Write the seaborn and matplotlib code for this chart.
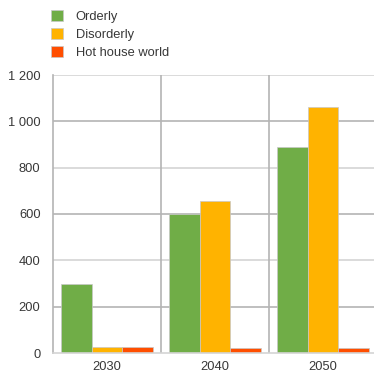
import matplotlib
matplotlib.use("Agg")
import matplotlib.pyplot as plt
import seaborn as sns
import pandas as pd
from matplotlib.patches import Patch
from matplotlib.ticker import FuncFormatter

years = ["2030", "2040", "2050"]
scenarios = ["Orderly", "Disorderly", "Hot house world"]
orderly = [300, 600, 890]
disorderly = [25, 655, 1060]
hot_house = [27, 22, 22]
colors = ["#70AD47", "#FFB300", "#FF4E00"]

rows = []
for name, vals in zip(scenarios, [orderly, disorderly, hot_house]):
    for y, v in zip(years, vals):
        rows.append({"year": y, "scenario": name, "value": v})
df = pd.DataFrame(rows)

sns.set_theme(style="white")
plt.rcParams["font.family"] = ["Liberation Sans", "DejaVu Sans"]

fig = plt.figure(figsize=(3.74, 3.74), dpi=100)
ax = fig.add_axes([53 / 374, 1 - 353 / 374, 324 / 374, 278 / 374])

sns.barplot(data=df, x="year", y="value", hue="scenario", hue_order=scenarios,
            palette=colors, width=0.86, gap=0, saturation=1, ax=ax,
            edgecolor="#c8c8c8", linewidth=0.5, legend=False, errorbar=None)

ax.set_ylim(0, 1200)
ax.set_xlim(-0.5, 2.5)
ax.set_yticks(range(0, 1201, 200))
ax.yaxis.set_major_formatter(FuncFormatter(lambda v, p: f"{int(v):,}".replace(",", " ")))
ax.set_xlabel("")
ax.set_ylabel("")

# horizontal grid, alternating shades
for v in range(200, 1201, 200):
    c = "#b4b4b4" if (v // 200) % 2 == 1 else "#d4d4d4"
    ax.axhline(v, color=c, lw=1.2, zorder=0)
# category separators
for xv in [0.5, 1.5]:
    ax.axvline(xv, color="#b4b4b4", lw=1.2, zorder=0)

for s in ["top", "right"]:
    ax.spines[s].set_visible(False)
ax.spines["left"].set_color("#b4b4b4")
ax.spines["left"].set_linewidth(1.2)
ax.spines["bottom"].set_color("#d4d4d4")
ax.spines["bottom"].set_linewidth(1.2)

ax.tick_params(axis="both", length=0, labelsize=9.3, colors="#383838")
ax.tick_params(axis="y", pad=9)
ax.tick_params(axis="x", pad=6)

handles = [Patch(facecolor=c, edgecolor="#c8c8c8", linewidth=0.5) for c in colors]
fig.legend(handles, scenarios, loc="upper left", bbox_to_anchor=(46 / 374, 1 - 5 / 374),
           frameon=False, fontsize=9.3, handlelength=0.9, handleheight=0.9,
           handletextpad=1.0, labelspacing=0.4, borderaxespad=0, labelcolor="#383838")

fig.savefig("out.png", dpi=100)
